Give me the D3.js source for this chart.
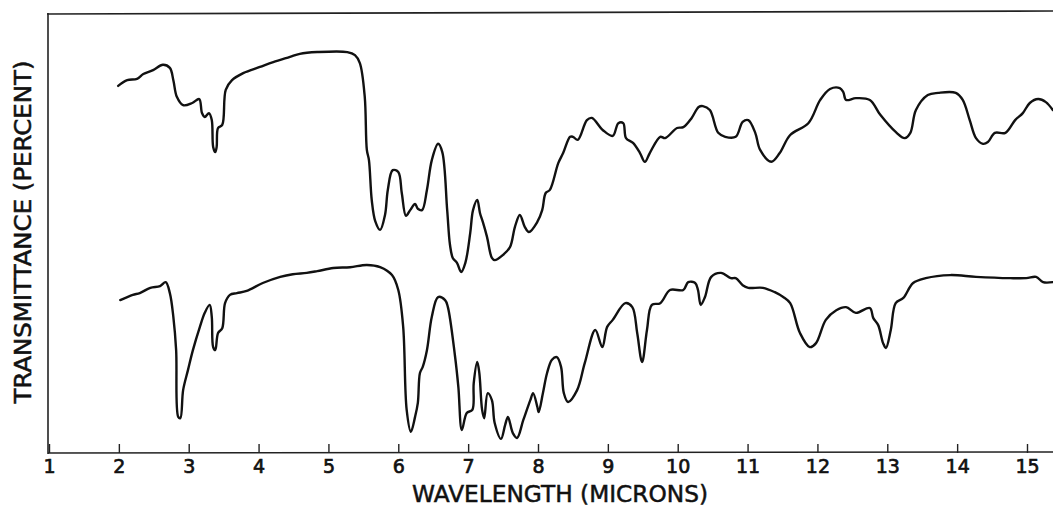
<!DOCTYPE html>
<html>
<head>
<meta charset="utf-8">
<script src="https://cdn.jsdelivr.net/npm/d3@7"></script>
<style>
  html, body { margin: 0; padding: 0; background: #fff; }
  svg { display: block; }
  text { font-family: "DejaVu Sans", sans-serif; fill: #111; }
</style>
</head>
<body>
<svg id="chart" width="1053" height="507"></svg>
<script>
// ---- data ----
const tickValues = [1, 2, 3, 4, 5, 6, 7, 8, 9, 10, 11, 12, 13, 14, 15];
const xTitle = "WAVELENGTH (MICRONS)";
const yTitle = "TRANSMITTANCE (PERCENT)";

// upper spectrum: wavelength (microns) and transmittance (chart percent)
const upperWave = [1.99,2.12,2.26,2.35,2.49,2.63,2.73,2.78,2.83,2.92,3.05,3.15,3.19,3.23,3.29,3.33,3.35,3.38,3.40,3.42,3.48,3.53,3.62,3.78,4.02,4.21,4.45,4.59,4.84,5.27,5.38,5.45,5.52,5.55,5.58,5.62,5.67,5.74,5.81,5.85,5.92,6.00,6.05,6.11,6.17,6.24,6.28,6.34,6.41,6.48,6.57,6.63,6.70,6.74,6.78,6.84,6.90,6.96,7.03,7.07,7.13,7.17,7.21,7.27,7.34,7.38,7.50,7.60,7.67,7.74,7.81,7.87,7.99,8.06,8.11,8.17,8.29,8.36,8.46,8.50,8.57,8.70,8.77,8.93,9.07,9.15,9.22,9.26,9.36,9.46,9.53,9.60,9.75,9.82,9.99,10.08,10.20,10.30,10.36,10.46,10.58,10.68,10.83,10.93,11.01,11.11,11.18,11.34,11.46,11.61,11.87,12.04,12.18,12.32,12.37,12.41,12.55,12.75,12.90,13.12,13.25,13.33,13.41,13.58,13.73,13.98,14.08,14.18,14.27,14.37,14.44,14.54,14.69,14.83,14.94,15.04,15.16,15.27,15.37];
const upperT = [83.4,84.7,85.0,86.1,87.0,88.2,87.5,84.7,80.9,79.0,79.5,80.4,77.2,76.3,77.2,75.6,69.5,68.3,69.5,73.8,74.5,82.5,84.7,86.3,87.7,88.8,90.0,90.7,91.1,91.1,90.4,88.6,80.9,68.8,66.5,57.4,52.6,50.6,54.0,59.7,64.2,63.8,59.0,53.8,55.1,56.5,55.4,55.1,59.7,66.5,70.2,68.3,55.1,47.2,44.2,43.1,41.0,43.1,49.9,55.1,57.4,54.4,52.4,49.0,44.2,43.7,44.9,46.7,51.3,54.0,51.3,50.1,52.4,55.1,59.0,59.7,65.8,68.1,71.8,71.8,71.1,75.6,76.1,73.3,72.0,74.9,74.9,71.5,70.4,68.1,66.1,68.1,71.8,71.5,73.8,74.0,76.1,78.6,78.8,77.9,72.7,71.8,71.8,75.2,75.6,72.7,68.8,66.1,68.1,72.2,74.9,80.2,82.7,82.9,82.0,80.2,80.6,80.2,76.8,72.9,71.5,72.7,77.9,81.3,81.8,81.8,80.2,75.6,71.5,70.2,70.6,72.7,72.7,75.6,77.2,79.5,80.4,79.7,77.9];

// lower spectrum
const lowerWave = [2.02,2.20,2.30,2.45,2.59,2.67,2.73,2.78,2.82,2.85,2.88,2.92,2.99,3.06,3.16,3.23,3.30,3.33,3.35,3.38,3.42,3.48,3.52,3.59,3.69,3.83,4.06,4.31,4.49,4.69,4.84,5.07,5.31,5.55,5.74,5.91,6.00,6.07,6.12,6.18,6.24,6.28,6.31,6.35,6.41,6.48,6.57,6.67,6.71,6.81,6.86,6.91,6.98,7.06,7.08,7.13,7.16,7.20,7.23,7.28,7.34,7.38,7.47,7.53,7.57,7.64,7.70,7.79,7.89,7.93,7.99,8.01,8.07,8.13,8.20,8.27,8.33,8.37,8.43,8.56,8.67,8.82,8.92,8.99,9.07,9.25,9.35,9.42,9.49,9.56,9.63,9.75,9.89,10.08,10.15,10.25,10.29,10.33,10.39,10.48,10.62,10.76,10.83,10.93,11.01,11.22,11.39,11.51,11.61,11.75,11.89,11.98,12.12,12.27,12.41,12.55,12.75,12.80,12.87,12.94,12.98,13.05,13.12,13.23,13.37,13.55,13.90,14.27,14.76,14.99,15.13,15.23,15.37];
const lowerT = [34.6,35.8,36.2,37.4,37.8,38.7,36.2,30.8,23.2,8.0,7.7,14.1,18.7,23.2,28.5,31.7,33.5,30.8,23.9,23.2,27.1,28.2,33.9,35.8,36.2,36.7,38.5,39.9,40.5,40.8,41.2,41.9,42.1,42.6,42.1,40.3,36.9,28.5,9.6,4.6,8.0,11.2,18.0,19.4,23.2,30.8,35.3,34.6,33.0,22.1,14.8,5.0,8.9,9.6,15.7,20.5,18.0,9.6,7.7,13.4,11.8,6.6,3.0,6.2,8.0,4.3,3.2,7.3,11.8,13.4,10.3,9.1,13.4,18.0,21.0,21.6,19.4,13.4,11.4,14.1,20.3,27.8,23.9,28.5,30.1,33.9,33.0,27.1,20.5,27.8,33.5,33.9,36.9,36.9,38.7,38.5,36.9,33.5,35.3,39.9,40.8,39.6,39.6,38.0,37.4,37.4,36.4,35.3,33.9,27.1,23.9,24.8,30.1,32.3,33.0,31.7,32.8,30.5,28.9,24.8,23.7,27.8,33.9,35.1,38.5,39.6,40.3,39.9,39.6,39.6,39.9,38.7,38.7];

// ---- drawing ----
const svg = d3.select("#chart");
const W = 1053, H = 507;

const x = d3.scaleLinear().domain([1, 15]).range([49, 1027]);
const y = d3.scaleLinear().domain([0, 100]).range([452, 13]);

const axisY = 453;
const frameLeft = 48;

// frame: top border and left border
svg.append("line")
  .attr("x1", frameLeft - 1).attr("y1", 14)
  .attr("x2", W).attr("y2", 11)
  .attr("stroke", "#222").attr("stroke-width", 1.6);
svg.append("line")
  .attr("x1", frameLeft).attr("y1", 13)
  .attr("x2", frameLeft).attr("y2", axisY + 1)
  .attr("stroke", "#222").attr("stroke-width", 1.6);
// bottom axis line
svg.append("line")
  .attr("x1", frameLeft).attr("y1", axisY)
  .attr("x2", W).attr("y2", axisY - 1)
  .attr("stroke", "#222").attr("stroke-width", 1.6);

// x axis with inward ticks
const xAxis = d3.axisBottom(x)
  .tickValues(tickValues)
  .tickFormat(d3.format("d"))
  .tickSizeInner(-9)
  .tickSizeOuter(0)
  .tickPadding(7);

const gx = svg.append("g")
  .attr("transform", `translate(0,${axisY})`)
  .call(xAxis);
gx.select(".domain").remove();
gx.selectAll(".tick line").attr("stroke", "#222").attr("stroke-width", 1.4);
gx.selectAll(".tick text")
  .attr("font-family", "DejaVu Sans, sans-serif")
  .attr("font-size", 19)
  .attr("fill", "#111")
  .attr("stroke", "#111")
  .attr("stroke-width", 0.7);

// spectra
const upper = upperWave.map((w, i) => ({ w, t: upperT[i] }));
const lower = lowerWave.map((w, i) => ({ w, t: lowerT[i] }));

const line = d3.line()
  .x(d => x(d.w))
  .y(d => y(d.t))
  .curve(d3.curveCatmullRom.alpha(0.5));

svg.append("path").datum(upper)
  .attr("d", line)
  .attr("fill", "none").attr("stroke", "#111")
  .attr("stroke-width", 2.4).attr("stroke-linejoin", "round").attr("stroke-linecap", "round");

svg.append("path").datum(lower)
  .attr("d", line)
  .attr("fill", "none").attr("stroke", "#111")
  .attr("stroke-width", 2.4).attr("stroke-linejoin", "round").attr("stroke-linecap", "round");

// axis titles
svg.append("text")
  .attr("x", 560).attr("y", 502)
  .attr("text-anchor", "middle")
  .attr("font-size", 23)
  .attr("stroke", "#111").attr("stroke-width", 0.5)
  .attr("textLength", 296)
  .attr("lengthAdjust", "spacingAndGlyphs")
  .text(xTitle);

svg.append("text")
  .attr("transform", "translate(31,232) rotate(-90)")
  .attr("text-anchor", "middle")
  .attr("font-size", 23)
  .attr("stroke", "#111").attr("stroke-width", 0.5)
  .attr("textLength", 343)
  .attr("lengthAdjust", "spacingAndGlyphs")
  .text(yTitle);
</script>
</body>
</html>
